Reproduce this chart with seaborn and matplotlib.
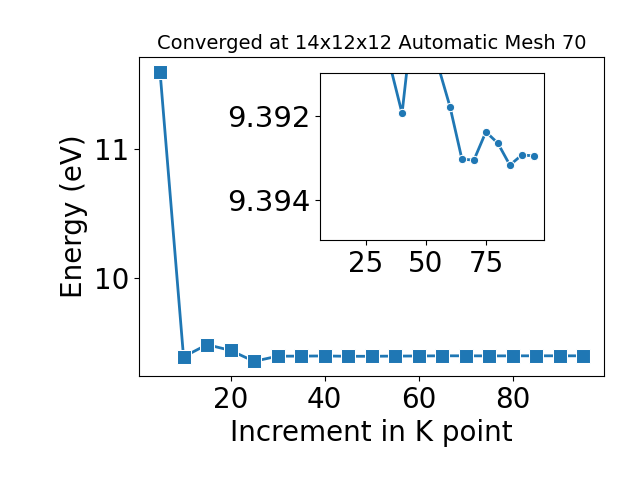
import matplotlib
matplotlib.use("Agg")
import matplotlib.pyplot as plt
import seaborn as sns

# k-point increments and total energies (eV)
kpoints = [5, 10, 15, 20, 25, 30, 35, 40, 45, 50, 55, 60, 65, 70, 75, 80, 85, 90, 95]
energy = [11.60, 9.385, 9.48, 9.435, 9.35, 9.390, 9.3908, 9.39194, 9.3894, 9.3895,
          9.3908, 9.39178, 9.39303, 9.39305, 9.39238, 9.39265, 9.39317, 9.39293, 9.39295]

# zoomed part for the inset (starts at 35)
inset_start = 6
inset_yticks = [9.392, 9.394]
inset_xticks = [25, 50, 75]

fig = plt.figure(figsize=(6.4, 4.8), dpi=100)
ax = fig.add_axes([0.217, 0.217, 0.727, 0.664])

sns.lineplot(x=kpoints, y=energy, marker="s", markersize=10, linewidth=2,
             color="#1f77b4", ax=ax)
ax.set_title("Converged at 14x12x12 Automatic Mesh 70", fontsize=14)
ax.set_xlabel("Increment in K point", fontsize=20)
ax.set_ylabel("Energy (eV)", fontsize=20)
ax.set_xticks([20, 40, 60, 80])
ax.set_yticks([10, 11])
ax.tick_params(labelsize=20)

axins = fig.add_axes([0.5, 0.5, 0.35, 0.348])
sns.lineplot(x=kpoints[inset_start:], y=energy[inset_start:], marker="o",
             markersize=6, linewidth=2, color="#1f77b4", ax=axins)
axins.set_xlim(5.75, 99.25)
axins.set_ylim(9.39495, 9.39098)
axins.set_xticks(inset_xticks)
axins.set_yticks(inset_yticks)
axins.set_yticklabels([f"{v:.3f}" for v in inset_yticks])
axins.tick_params(axis="x", labelsize=20)
axins.tick_params(axis="y", labelsize=21)

plt.savefig("out.png", dpi=100)
plt.close()
